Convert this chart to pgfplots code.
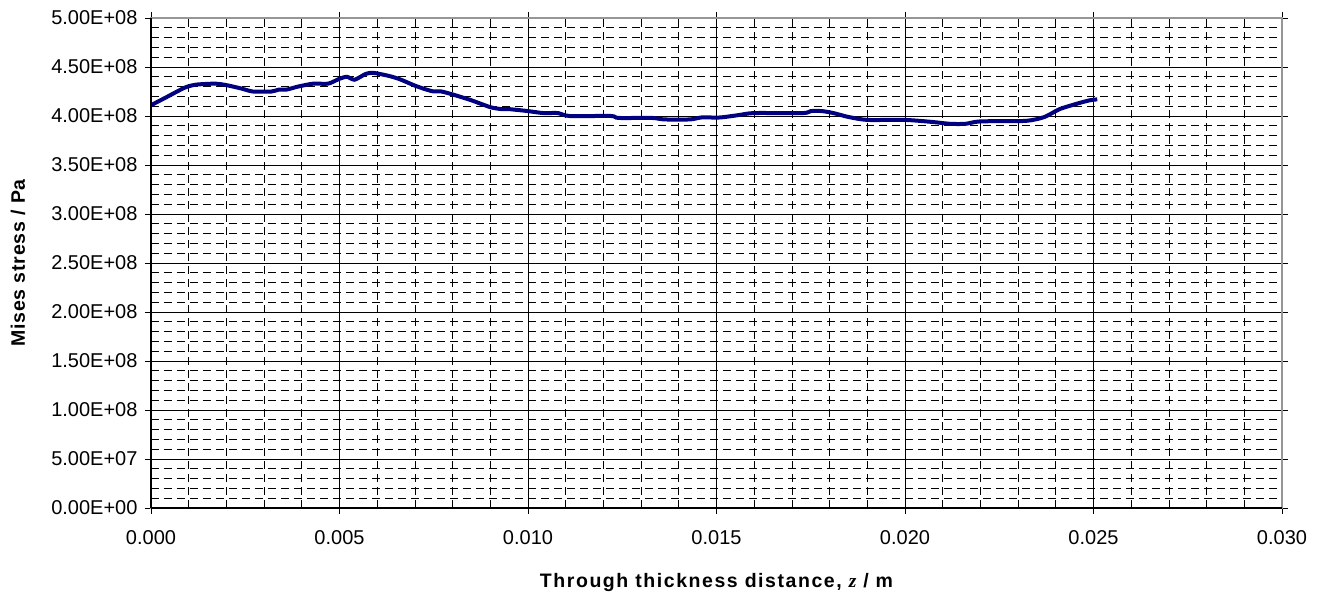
\documentclass[border=0pt]{standalone}
\usepackage{pgfplots}
\pgfplotsset{compat=1.18}
\usepackage{fontspec}
\setmainfont{Liberation Sans}
\newfontfamily\serifit{Liberation Serif}
\definecolor{curve}{RGB}{0,0,128}
\definecolor{frame}{RGB}{150,150,150}

% Mises stress through the thickness (z in m, stress in Pa)
\pgfplotstableread{
z       s
0.0000  4.110e8
0.0004  4.190e8
0.0009  4.290e8
0.0012  4.320e8
0.0017  4.330e8
0.0020  4.315e8
0.0024  4.280e8
0.0027  4.250e8
0.0032  4.250e8
0.0034  4.270e8
0.0036  4.270e8
0.0039  4.300e8
0.0043  4.330e8
0.0047  4.330e8
0.0050  4.380e8
0.0052  4.400e8
0.0054  4.370e8
0.0057  4.430e8
0.0059  4.440e8
0.0063  4.410e8
0.0066  4.375e8
0.0070  4.310e8
0.0073  4.270e8
0.0075  4.250e8
0.0077  4.250e8
0.0080  4.220e8
0.0085  4.160e8
0.0090  4.090e8
0.0093  4.070e8
0.0095  4.070e8
0.0100  4.050e8
0.0104  4.030e8
0.0108  4.030e8
0.0111  4.000e8
0.0122  4.000e8
0.0124  3.980e8
0.0133  3.980e8
0.0136  3.965e8
0.0143  3.965e8
0.0146  3.985e8
0.0151  3.985e8
0.0156  4.010e8
0.0160  4.030e8
0.0173  4.030e8
0.0175  4.050e8
0.0178  4.050e8
0.0181  4.030e8
0.0185  3.990e8
0.0190  3.960e8
0.0200  3.960e8
0.0207  3.940e8
0.0212  3.920e8
0.0216  3.920e8
0.0220  3.945e8
0.0232  3.950e8
0.0237  3.990e8
0.0241  4.070e8
0.0246  4.130e8
0.0249  4.160e8
0.0251  4.170e8
}\stress

\begin{document}
\begin{tikzpicture}[x=1pt,y=1pt]
\begin{axis}[
  at={(0,0)}, anchor=south west,
  scale only axis,
  width=1131pt, height=490pt,
  xmin=0, xmax=0.030,
  ymin=0, ymax=5e8,
  xtick={0,0.005,...,0.030},
  xticklabels={0.000,0.005,0.010,0.015,0.020,0.025,0.030},
  ytick={0,5e7,1e8,1.5e8,2e8,2.5e8,3e8,3.5e8,4e8,4.5e8,5e8},
  yticklabels={0.00E+00,5.00E+07,1.00E+08,1.50E+08,2.00E+08,2.50E+08,3.00E+08,3.50E+08,4.00E+08,4.50E+08,5.00E+08},
  scaled ticks=false,
  minor x tick num=4,
  minor y tick num=4,
  tick align=outside,
  major tick length=6pt,
  minor tick length=0pt,
  tick style={black, line width=0.9pt},
  grid=both,
  major grid style={black, line width=0.9pt},
  minor grid style={black, line width=0.8pt, dash pattern=on 8pt off 5pt},
  axis line style={draw=frame, line width=1.2pt},
  ticklabel style={font=\fontsize{20}{24}\selectfont},
  xticklabel style={anchor=north, yshift=-13pt},
  yticklabel style={anchor=east, xshift=-4pt},
  xlabel={\addfontfeature{LetterSpace=8}\bfseries Through thickness distance, {\serifit\itshape z} / m},
  ylabel={\addfontfeature{LetterSpace=4}\bfseries Mises stress / Pa},
  label style={font=\fontsize{19.5}{23}\selectfont},
  xlabel style={at={(axis description cs:0.5,0)}, anchor=base, yshift=-79pt},
  ylabel style={at={(axis description cs:-0.1114,0.5)}, anchor=base},
  clip=false,
]
\addplot[color=curve, line width=4pt, smooth, tension=0.4] table[x=z, y=s] {\stress};
\draw[black, line width=1.2pt] (rel axis cs:0,0) -- (rel axis cs:0,1);
\draw[black, line width=1.2pt] (rel axis cs:0,0) -- (rel axis cs:1,0);
\end{axis}
\path[use as bounding box] (-151,-91) rectangle (1176,508);
\end{tikzpicture}
\end{document}
